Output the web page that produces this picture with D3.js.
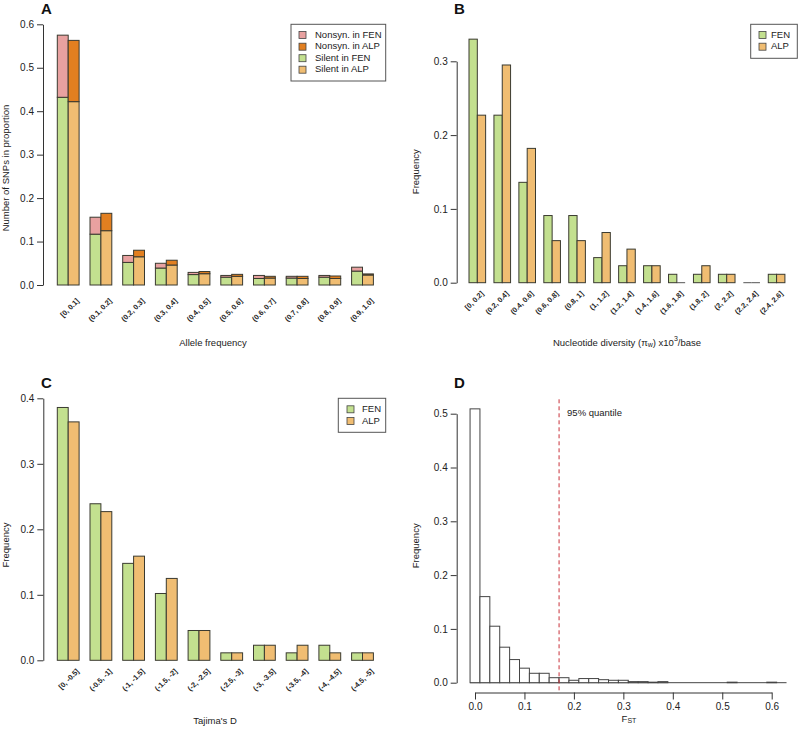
<!DOCTYPE html>
<html><head><meta charset="utf-8">
<script src="https://cdn.jsdelivr.net/npm/d3@7"></script>
<style>body{margin:0;background:#fff}svg{display:block;font-family:"Liberation Sans",Arial,sans-serif}</style>
</head><body><svg id="c" width="799" height="738"></svg>
<script>
// ---------- Panel A data ----------
const afCats = ["[0, 0.1]","(0.1, 0.2]","(0.2, 0.3]","(0.3, 0.4]","(0.4, 0.5]","(0.5, 0.6]","(0.6, 0.7]","(0.7, 0.8]","(0.8, 0.9]","(0.9, 1.0]"];
const silentFEN = [0.432,0.117,0.052,0.039,0.024,0.018,0.015,0.016,0.018,0.032];
const nonsynFEN = [0.143,0.039,0.016,0.011,0.005,0.004,0.007,0.004,0.004,0.009];
const silentALP = [0.422,0.125,0.065,0.046,0.026,0.020,0.016,0.015,0.015,0.023];
const nonsynALP = [0.141,0.040,0.015,0.011,0.005,0.0045,0.004,0.005,0.0057,0.0025];
const afTicks = [0,0.1,0.2,0.3,0.4,0.5,0.6];
// ---------- Panel B data ----------
const piCats = ["[0, 0.2]","(0.2, 0.4]","(0.4, 0.6]","(0.6, 0.8]","(0.8, 1]","(1, 1.2]","(1.2, 1.4]","(1.4, 1.6]","(1.6, 1.8]","(1.8, 2]","(2, 2.2]","(2.2, 2.4]","(2.4, 2.6]"];
const piFEN = [0.330,0.227,0.136,0.091,0.091,0.034,0.023,0.023,0.0114,0.0114,0.0114,0,0.0114];
const piALP = [0.227,0.295,0.182,0.057,0.057,0.068,0.0455,0.023,0,0.023,0.0114,0,0.0114];
const piTicks = [0,0.1,0.2,0.3];
// ---------- Panel C data ----------
const tdCats = ["[0, -0.5]","(-0.5, -1]","(-1, -1.5]","(-1.5, -2]","(-2, -2.5]","(-2.5, -3]","(-3, -3.5]","(-3.5, -4]","(-4, -4.5]","(-4.5, -5]"];
const tdFEN = [0.386,0.239,0.148,0.102,0.0455,0.0114,0.023,0.0114,0.023,0.0114];
const tdALP = [0.364,0.227,0.159,0.125,0.0455,0.0114,0.023,0.023,0.0114,0.0114];
const tdTicks = [0,0.1,0.2,0.3,0.4];
// ---------- Panel D data ----------
const fstBreaks = [-0.01,0.01,0.03,0.05,0.07,0.09,0.11,0.13,0.15,0.17,0.19,0.21,0.23,0.25,0.27,0.29,0.31,0.33,0.35,0.37,0.39,0.41,0.43,0.45,0.47,0.49,0.51,0.53,0.55,0.57,0.59,0.61,0.63];
const fstFreq = [0.509,0.160,0.105,0.066,0.043,0.027,0.0175,0.0175,0.0093,0.0093,0.0045,0.0077,0.0077,0.0056,0.0045,0.0045,0.002,0.002,0.001,0.002,0,0,0,0,0,0,0.001,0,0,0,0.001,0];
const fstQuantile = 0.17;
const fstXTicks = [0,0.1,0.2,0.3,0.4,0.5,0.6];
const fstYTicks = [0,0.1,0.2,0.3,0.4,0.5];

const col = {nsFEN:"#e8a1a0", nsALP:"#e27f20", sFEN:"#c3e08f", sALP:"#f0bd72"};
const svg = d3.select("#c");
const ink = "#222";

function yAxis(g, y, ticks, x0){
  const a = g.append("g").attr("transform",`translate(${x0},0)`)
    .call(d3.axisLeft(y).tickValues(ticks).tickFormat(d3.format(".1f")).tickSize(6).tickPadding(3).tickSizeOuter(0));
  a.selectAll("text").attr("font-size",10).attr("fill",ink).attr("font-family","Liberation Sans, Arial");
  a.selectAll("line,path").attr("stroke","#333");
  return a;
}
function catLabels(g, cats, x, y0, dx, dy){
  g.selectAll(null).data(cats).enter().append("text")
    .attr("transform",(d,i)=>`translate(${x(3*i+2)+dx},${y0+dy}) rotate(-45)`)
    .attr("text-anchor","end").attr("dominant-baseline","middle")
    .attr("font-size",7.3).attr("font-weight","bold").attr("fill",ink).text(d=>d);
}
function legend(g, x0, y0, w, h, items, sx, tx, ys){
  g.append("rect").attr("x",x0).attr("y",y0).attr("width",w).attr("height",h).attr("fill","#fff").attr("stroke","#555");
  items.forEach((it,i)=>{
    g.append("rect").attr("x",sx).attr("y",ys[i]-3.5).attr("width",7).attr("height",7).attr("fill",it[1]).attr("stroke","#444").attr("stroke-width",0.8);
    g.append("text").attr("x",tx).attr("y",ys[i]).attr("dominant-baseline","middle").attr("font-size",9.5).attr("fill",ink).text(it[0]);
  });
}
function panelLetter(x,y,t){ svg.append("text").attr("x",x).attr("y",y).attr("font-size",15).attr("font-weight","bold").attr("fill","#111").text(t); }
function yTitle(x,y,t){ svg.append("text").attr("transform",`translate(${x},${y}) rotate(-90)`).attr("text-anchor","middle").attr("dominant-baseline","middle").attr("font-size",9.5).attr("fill",ink).text(t); }
function groupBars(g, bars, x, y){
  g.selectAll(null).data(bars.filter(d=>d.v>0)).enter().append("rect")
    .attr("x",d=>x(d.x0)).attr("width",d=>x(d.x0+1)-x(d.x0))
    .attr("y",d=>y(d.v)).attr("height",d=>y(0)-y(d.v))
    .attr("fill",d=>d.f).attr("stroke","#3a3a30").attr("stroke-width",1);
  g.selectAll(null).data(bars.filter(d=>d.v===0)).enter().append("line")
    .attr("x1",d=>x(d.x0)).attr("x2",d=>x(d.x0+1)).attr("y1",y(0)).attr("y2",y(0))
    .attr("stroke","#555").attr("stroke-width",1);
}

// ================= Panel A =================
{
  const g = svg.append("g");
  const x = d3.scaleLinear().domain([0,30]).range([46.4,373.4]);
  const y = d3.scaleLinear().domain([0,0.6]).range([285,24.3]);
  const bars = [];
  afCats.forEach((c,i)=>{
    bars.push({x0:3*i+1, lo:0, hi:silentFEN[i], f:col.sFEN});
    bars.push({x0:3*i+1, lo:silentFEN[i], hi:silentFEN[i]+nonsynFEN[i], f:col.nsFEN});
    bars.push({x0:3*i+2, lo:0, hi:silentALP[i], f:col.sALP});
    bars.push({x0:3*i+2, lo:silentALP[i], hi:silentALP[i]+nonsynALP[i], f:col.nsALP});
  });
  g.selectAll(null).data(bars).enter().append("rect")
    .attr("x",d=>x(d.x0)).attr("width",d=>x(d.x0+1)-x(d.x0))
    .attr("y",d=>y(d.hi)).attr("height",d=>y(d.lo)-y(d.hi))
    .attr("fill",d=>d.f).attr("stroke","#3a3a30").attr("stroke-width",1);
  yAxis(g,y,afTicks,43);
  catLabels(g,afCats,x,285,10,15);
  legend(g,291,24.3,94.7,56.7,[["Nonsyn. in FEN",col.nsFEN],["Nonsyn. in ALP",col.nsALP],["Silent in FEN",col.sFEN],["Silent in ALP",col.sALP]],299,315,[35,46.7,58.2,69.7]);
  g.append("text").attr("x",213).attr("y",343).attr("text-anchor","middle").attr("dominant-baseline","middle").attr("font-size",9.5).attr("fill",ink).text("Allele frequency");
  yTitle(6,168,"Number of SNPs in proportion");
  panelLetter(41,14,"A");
}
// ================= Panel B =================
{
  const g = svg.append("g");
  const u = 24.94/3;
  const x = d3.scaleLinear().domain([0,39]).range([469-u,469+38*u]);
  const y = d3.scaleLinear().domain([0,0.3]).range([282.7,61.3]);
  const bars = [];
  piCats.forEach((c,i)=>{
    bars.push({x0:3*i+1, v:piFEN[i], f:col.sFEN});
    bars.push({x0:3*i+2, v:piALP[i], f:col.sALP});
  });
  groupBars(g,bars,x,y);
  yAxis(g,y,piTicks,456.7);
  catLabels(g,piCats,x,282.7,5.5,10);
  legend(g,750.7,24.3,46.6,34,[["FEN",col.sFEN],["ALP",col.sALP]],759,771,[35,46.7]);
  const t = g.append("text").attr("x",627).attr("y",343).attr("text-anchor","middle").attr("dominant-baseline","middle").attr("font-size",9.5).attr("fill",ink);
  t.append("tspan").text("Nucleotide diversity (\u03c0");
  t.append("tspan").attr("font-size",7).attr("dy",2).text("w");
  t.append("tspan").attr("dy",-2).text(") x10");
  t.append("tspan").attr("font-size",7).attr("dy",-4).text("3");
  t.append("tspan").attr("dy",4).text("/base");
  yTitle(416.7,171.7,"Frequency");
  panelLetter(454,14,"B");
}
// ================= Panel C =================
{
  const g = svg.append("g");
  const x = d3.scaleLinear().domain([0,30]).range([46.4,373.4]);
  const y = d3.scaleLinear().domain([0,0.4]).range([660.3,398.3]);
  const bars = [];
  tdCats.forEach((c,i)=>{
    bars.push({x0:3*i+1, v:tdFEN[i], f:col.sFEN});
    bars.push({x0:3*i+2, v:tdALP[i], f:col.sALP});
  });
  groupBars(g,bars,x,y);
  yAxis(g,y,tdTicks,43.3);
  catLabels(g,tdCats,x,660.3,10,10);
  legend(g,338.3,398.3,47.4,34,[["FEN",col.sFEN],["ALP",col.sALP]],347,362,[409.3,421]);
  g.append("text").attr("x",215).attr("y",721).attr("text-anchor","middle").attr("dominant-baseline","middle").attr("font-size",9.5).attr("fill",ink).text("Tajima's D");
  yTitle(6,545,"Frequency");
  panelLetter(41,388,"C");
}
// ================= Panel D =================
{
  const g = svg.append("g");
  const x = d3.scaleLinear().domain([0,0.6]).range([475,771.7]);
  const y = d3.scaleLinear().domain([0,0.5]).range([682.7,413.7]);
  const bins = fstFreq.map((v,i)=>({a:fstBreaks[i], b:fstBreaks[i+1], v}));
  g.append("line").attr("x1",x(fstBreaks[0])).attr("x2",x(fstBreaks[fstBreaks.length-1]))
    .attr("y1",y(0)).attr("y2",y(0)).attr("stroke","#444").attr("stroke-width",1);
  g.selectAll(null).data(bins.filter(d=>d.v>0)).enter().append("rect")
    .attr("x",d=>x(d.a)).attr("width",d=>x(d.b)-x(d.a))
    .attr("y",d=>y(d.v)).attr("height",d=>y(0)-y(d.v))
    .attr("fill","#fff").attr("stroke","#444").attr("stroke-width",1);
  yAxis(g,y,fstYTicks,456.7);
  const xa = g.append("g").attr("transform","translate(0,692.5)")
    .call(d3.axisBottom(x).tickValues(fstXTicks).tickFormat(d3.format(".1f")).tickSize(7).tickPadding(3).tickSizeOuter(0));
  xa.selectAll("text").attr("font-size",10).attr("fill",ink).attr("font-family","Liberation Sans, Arial");
  xa.selectAll("line,path").attr("stroke","#333");
  g.append("line").attr("x1",x(fstQuantile)).attr("x2",x(fstQuantile)).attr("y1",399.3).attr("y2",692.5)
    .attr("stroke","#c8303a").attr("stroke-width",1).attr("stroke-dasharray","4,3");
  g.append("text").attr("x",x(fstQuantile)+8).attr("y",413.5).attr("dominant-baseline","middle").attr("font-size",9.5).attr("fill",ink).text("95% quantile");
  const t = g.append("text").attr("x",629).attr("y",719).attr("text-anchor","middle").attr("dominant-baseline","middle").attr("font-size",9.5).attr("fill",ink);
  t.append("tspan").text("F");
  t.append("tspan").attr("font-size",7).attr("dy",2).text("ST");
  yTitle(416.7,545.8,"Frequency");
  panelLetter(454,388,"D");
}
</script></body></html>
